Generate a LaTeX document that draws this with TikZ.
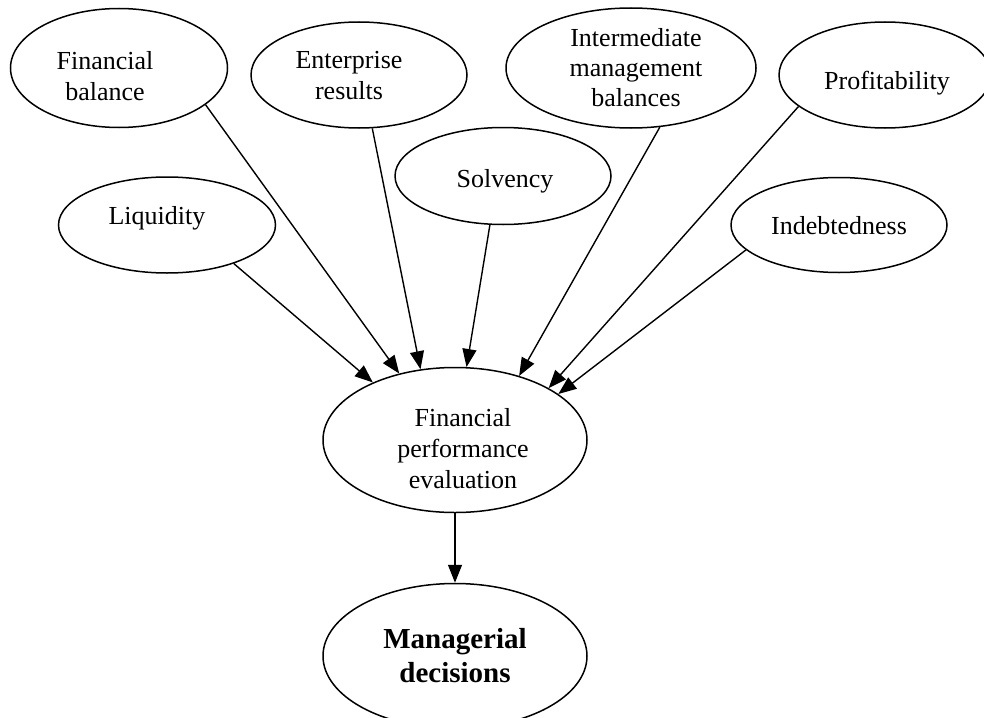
\documentclass[tikz,border=0pt]{standalone}
\usepackage{fontspec}
\setmainfont{Liberation Serif}
\usetikzlibrary{shapes.geometric,arrows.meta}

\begin{document}
\begin{tikzpicture}[x=1pt,y=-1pt,
        oval/.style={draw, ellipse, line width=1.5pt, inner sep=0pt},
        txt/.style={align=center, inner sep=0pt, font=\fontsize{26}{31}\selectfont},
        link/.style={line width=1.4pt, -{Triangle[length=18pt,width=14pt]}}]
        \useasboundingbox (0,0) rectangle (984,717);

        % Indicators
        \node[oval, minimum width=217pt, minimum height=119pt,
            label={[txt, xshift=-14pt, yshift=-8pt]center:{Financial\\balance}}] (fb) at (119,68) {};
        \node[oval, minimum width=216pt, minimum height=106pt,
            label={[txt, xshift=-10pt, yshift=-1pt]center:{Enterprise\\results}}] (er) at (359,75) {};
        \node[oval, minimum width=250pt, minimum height=120pt,
            label={[txt, xshift=5pt, font=\fontsize{26}{30}\selectfont]center:{Intermediate\\management\\balances}}] (imb) at (631,68) {};
        \node[oval, minimum width=212pt, minimum height=106pt,
            label={[txt, xshift=2pt, yshift=-8pt]center:{Profitability}}] (pr) at (885,75) {};
        \node[oval, minimum width=216pt, minimum height=97pt,
            label={[txt, xshift=2pt, yshift=-5pt]center:{Solvency}}] (so) at (503,176) {};
        \node[oval, minimum width=217pt, minimum height=96pt,
            label={[txt, xshift=-10pt, yshift=7pt]center:{Liquidity}}] (li) at (167,225) {};
        \node[oval, minimum width=216pt, minimum height=95pt,
            label={[txt, yshift=-1pt]center:{Indebtedness}}] (in) at (839,225) {};

        % Evaluation and decisions
        \node[oval, minimum width=264pt, minimum height=145pt,
            label={[txt, xshift=8pt, yshift=-9pt]center:{Financial\\performance\\evaluation}}] (fpe) at (455,440) {};
        \node[oval, minimum width=264pt, minimum height=145pt,
            label={[txt, font=\fontsize{29}{34}\selectfont\bfseries]center:{Managerial\\decisions}}] (md) at (455,656) {};

        % Arrows
        \draw[link] (li.-30) -- (fpe.145);
        \draw[link] (fb.-23) -- (fpe.130);
        \draw[link] (er.-76) -- (fpe.116);
        \draw[link] (so.-105) -- (fpe.81);
        \draw[link] (imb.-64) -- (fpe.45);
        \draw[link] (pr.-160) -- (fpe.29);
        \draw[link] (in.-165) -- (fpe.24);
        \draw[link] (fpe.south) -- (md.north);
    \end{tikzpicture}
\end{document}
